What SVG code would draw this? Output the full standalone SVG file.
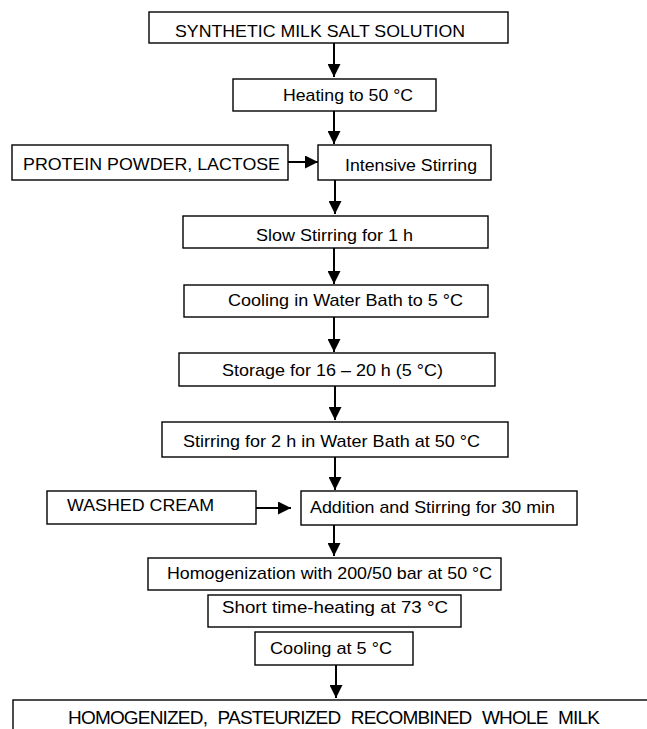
<svg xmlns="http://www.w3.org/2000/svg" width="647" height="729" viewBox="0 0 647 729">
<style>
.box{fill:#fff;stroke:#000;stroke-width:1.4}
.t{font-family:"Liberation Sans",Arial,sans-serif;font-size:17px;fill:#000}
.big{font-size:19px}
.c{stroke:#000;stroke-width:2;fill:none;marker-end:url(#ah)}
</style>
<defs>
<marker id="ah" markerUnits="userSpaceOnUse" markerWidth="13" markerHeight="13" refX="13" refY="6.5" orient="auto">
<path d="M0,0 L13,6.5 L0,13 Z" fill="#000"/>
</marker>
</defs>
<rect width="647" height="729" fill="#fff"/>
<g id="connectors">
<line class="c" x1="334" y1="43" x2="334" y2="77"/>
<line class="c" x1="334" y1="111" x2="334" y2="144"/>
<line class="c" x1="288" y1="162" x2="318" y2="162"/>
<line class="c" x1="335" y1="180" x2="335" y2="214"/>
<line class="c" x1="334" y1="248" x2="334" y2="284"/>
<line class="c" x1="334" y1="317" x2="334" y2="352"/>
<line class="c" x1="335" y1="386" x2="335" y2="420"/>
<line class="c" x1="335" y1="457" x2="335" y2="490"/>
<line class="c" x1="256" y1="508" x2="291" y2="508"/>
<line class="c" x1="334" y1="525" x2="334" y2="556"/>
<line class="c" x1="336" y1="665" x2="336" y2="698"/>
</g>
<g id="n1"><rect class="box" x="149" y="12" width="359" height="31"/><text class="t" x="175" y="37" textLength="290" lengthAdjust="spacingAndGlyphs">SYNTHETIC MILK SALT SOLUTION</text></g>
<g id="n2"><rect class="box" x="233" y="79" width="203" height="32"/><text class="t" x="283" y="101" textLength="130" lengthAdjust="spacingAndGlyphs">Heating to 50 °C</text></g>
<g id="n3"><rect class="box" x="12" y="145" width="276" height="35"/><text class="t" x="23" y="170" textLength="257" lengthAdjust="spacingAndGlyphs">PROTEIN POWDER, LACTOSE</text></g>
<g id="n4"><rect class="box" x="318" y="145" width="173" height="35"/><text class="t" x="345" y="171" textLength="132" lengthAdjust="spacingAndGlyphs">Intensive Stirring</text></g>
<g id="n5"><rect class="box" x="183" y="216" width="305" height="32"/><text class="t" x="256" y="241" textLength="157" lengthAdjust="spacingAndGlyphs">Slow Stirring for 1 h</text></g>
<g id="n6"><rect class="box" x="184" y="285" width="304" height="32"/><text class="t" x="228" y="306" textLength="235" lengthAdjust="spacingAndGlyphs">Cooling in Water Bath to 5 °C</text></g>
<g id="n7"><rect class="box" x="179" y="353" width="316" height="33"/><text class="t" x="222" y="376" textLength="221" lengthAdjust="spacingAndGlyphs">Storage for 16 – 20 h (5 °C)</text></g>
<g id="n8"><rect class="box" x="162" y="422" width="346" height="35"/><text class="t" x="183" y="447" textLength="297" lengthAdjust="spacingAndGlyphs">Stirring for 2 h in Water Bath at 50 °C</text></g>
<g id="n9"><rect class="box" x="47" y="491" width="209" height="33"/><text class="t" x="67" y="511" textLength="147" lengthAdjust="spacingAndGlyphs">WASHED CREAM</text></g>
<g id="n10"><rect class="box" x="301" y="491" width="276" height="34"/><text class="t" x="310" y="513" textLength="245" lengthAdjust="spacingAndGlyphs">Addition and Stirring for 30 min</text></g>
<g id="n11"><rect class="box" x="148" y="558" width="353" height="32"/><text class="t" x="167" y="579" textLength="325" lengthAdjust="spacingAndGlyphs">Homogenization with 200/50 bar at 50 °C</text></g>
<g id="n12"><rect class="box" x="208" y="595" width="253" height="32"/><text class="t" x="222" y="613" textLength="226" lengthAdjust="spacingAndGlyphs">Short time-heating at 73 °C</text></g>
<g id="n13"><rect class="box" x="255" y="632" width="158" height="33"/><text class="t" x="270" y="654" textLength="122" lengthAdjust="spacingAndGlyphs">Cooling at 5 °C</text></g>
<g id="n14"><rect class="box" x="13" y="700" width="650" height="40"/><text class="t big" x="68" y="724" textLength="532" lengthAdjust="spacing" word-spacing="6">HOMOGENIZED, PASTEURIZED RECOMBINED WHOLE MILK</text></g>
</svg>
